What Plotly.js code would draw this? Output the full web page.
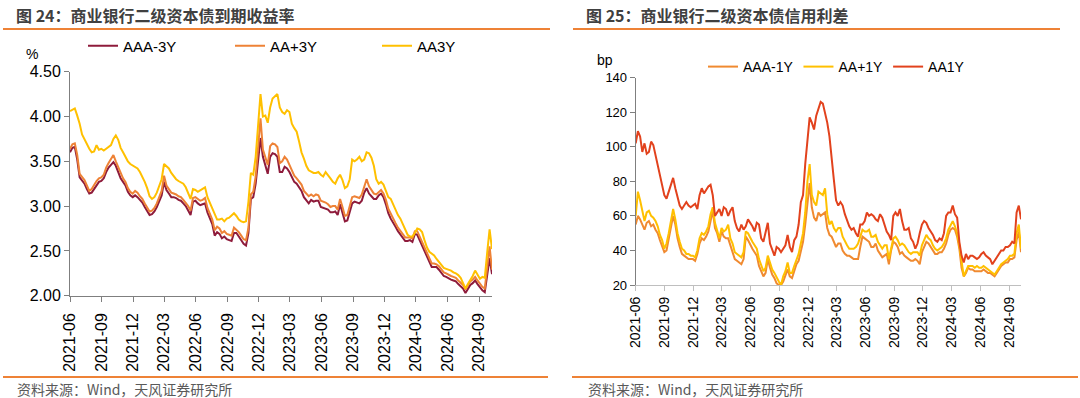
<!DOCTYPE html>
<html>
<head>
<meta charset="utf-8">
<script src="https://cdn.plot.ly/plotly-3.0.1.min.js"></script>
<style>html,body{margin:0;padding:0;background:#fff;}#chart{width:1080px;height:398px;}</style>
</head>
<body>
<div id="chart"></div>
<script>
// ---- data (weekly samples, first date 2021-06-01) ----
const startDate = '2021-06-01';
const stepDays = 7;

const tickDates = ['2021-06-01','2021-09-01','2021-12-01','2022-03-01','2022-06-01','2022-09-01','2022-12-01',
  '2023-03-01','2023-06-01','2023-09-01','2023-12-01','2024-03-01','2024-06-01','2024-09-01'];
const tickLabels = ['2021-06','2021-09','2021-12','2022-03','2022-06','2022-09','2022-12',
  '2023-03','2023-06','2023-09','2023-12','2024-03','2024-06','2024-09'];

// 图24 到期收益率 (%)
const AAA_3Y = [3.60,3.65,3.66,3.52,3.32,3.28,3.25,3.19,3.14,3.15,
3.19,3.23,3.27,3.28,3.31,3.38,3.43,3.46,3.49,3.45,
3.38,3.31,3.27,3.23,3.16,3.12,3.10,3.12,3.10,3.07,
3.04,2.99,2.94,2.90,2.91,2.94,2.99,3.05,3.12,3.27,
3.18,3.14,3.10,3.10,3.09,3.07,3.06,3.03,3.00,2.95,
2.90,3.05,3.06,3.03,3.01,3.02,3.03,2.93,2.86,2.80,
2.67,2.71,2.69,2.64,2.66,2.63,2.62,2.61,2.70,2.70,
2.66,2.62,2.58,2.56,2.70,3.08,3.10,3.25,3.50,3.76,
3.55,3.44,3.36,3.55,3.59,3.58,3.55,3.38,3.38,3.44,
3.42,3.38,3.33,3.27,3.25,3.21,3.17,3.10,3.07,3.03,
3.07,3.05,3.06,3.06,2.99,2.98,2.97,2.96,2.93,2.93,
2.94,2.90,3.02,2.93,2.83,2.84,2.93,3.03,3.05,3.04,
3.03,3.06,3.15,3.20,3.14,3.11,3.08,3.08,3.12,3.14,
3.10,3.02,2.92,2.86,2.82,2.77,2.72,2.68,2.64,2.61,
2.61,2.62,2.60,2.69,2.68,2.62,2.57,2.51,2.45,2.39,
2.32,2.32,2.32,2.29,2.25,2.22,2.21,2.19,2.18,2.17,
2.16,2.13,2.11,2.08,2.03,2.08,2.12,2.14,2.17,2.13,
2.09,2.06,2.04,2.25,2.42,2.24];

const AAplus_3Y = [3.64,3.69,3.70,3.57,3.36,3.32,3.29,3.23,3.17,3.19,
3.24,3.28,3.31,3.32,3.35,3.43,3.48,3.52,3.57,3.50,
3.43,3.36,3.31,3.27,3.20,3.16,3.14,3.17,3.15,3.11,
3.08,3.03,2.98,2.94,2.95,2.98,3.03,3.09,3.17,3.34,
3.23,3.19,3.15,3.14,3.13,3.11,3.10,3.07,3.04,3.00,
2.95,3.09,3.10,3.08,3.06,3.07,3.09,2.98,2.91,2.85,
2.73,2.77,2.75,2.70,2.72,2.69,2.68,2.67,2.76,2.74,
2.71,2.67,2.63,2.62,2.76,3.13,3.16,3.33,3.70,3.98,
3.63,3.54,3.46,3.67,3.70,3.69,3.66,3.48,3.50,3.55,
3.52,3.46,3.40,3.34,3.31,3.28,3.24,3.17,3.14,3.11,
3.13,3.11,3.13,3.12,3.06,3.05,3.04,3.02,2.99,3.00,
3.00,2.96,3.08,2.99,2.89,2.90,2.99,3.10,3.11,3.10,
3.09,3.13,3.23,3.30,3.22,3.18,3.14,3.13,3.16,3.18,
3.14,3.07,2.97,2.91,2.86,2.81,2.76,2.72,2.68,2.65,
2.65,2.65,2.64,2.72,2.72,2.66,2.61,2.55,2.49,2.43,
2.36,2.36,2.35,2.33,2.29,2.26,2.25,2.23,2.22,2.21,
2.20,2.17,2.15,2.12,2.07,2.12,2.16,2.18,2.21,2.17,
2.13,2.10,2.08,2.32,2.55,2.29];

const AA_3Y = [4.06,4.08,4.09,4.01,3.92,3.80,3.74,3.70,3.64,3.60,
3.61,3.68,3.63,3.64,3.62,3.64,3.66,3.68,3.75,3.79,
3.74,3.65,3.60,3.54,3.50,3.47,3.45,3.44,3.42,3.38,
3.33,3.27,3.20,3.11,3.08,3.10,3.15,3.22,3.30,3.47,
3.44,3.42,3.37,3.33,3.30,3.28,3.26,3.25,3.21,3.15,
3.08,3.19,3.18,3.16,3.18,3.20,3.21,3.10,3.04,2.98,
2.91,2.85,2.85,2.86,2.83,2.86,2.87,2.89,2.92,2.89,
2.85,2.83,2.82,2.83,3.05,3.37,3.35,3.55,3.95,4.25,
4.00,4.01,3.93,4.10,4.20,4.22,4.25,4.10,4.05,4.03,
4.07,4.05,3.92,3.87,3.83,3.72,3.60,3.53,3.45,3.40,
3.38,3.37,3.37,3.38,3.35,3.33,3.38,3.35,3.31,3.27,
3.25,3.31,3.35,3.29,3.20,3.22,3.30,3.52,3.50,3.52,
3.55,3.50,3.52,3.60,3.59,3.54,3.45,3.30,3.25,3.27,
3.24,3.17,3.10,3.08,3.02,2.95,2.90,2.86,2.80,2.72,
2.68,2.66,2.66,2.70,2.75,2.74,2.71,2.62,2.54,2.49,
2.47,2.45,2.41,2.38,2.34,2.31,2.30,2.29,2.28,2.26,
2.25,2.23,2.20,2.14,2.08,2.13,2.17,2.22,2.28,2.24,
2.19,2.21,2.20,2.48,2.74,2.52];

// 图25 信用利差 (bp)
const AAA_1Y = [55,60,58,55,52,56,57,54,55,52,
50,46,43,39,40,46,53,60,55,47,
42,38,37,36,35,35,35,34,38,44,
47,46,48,51,58,63,53,50,45,51,
48,47,47,43,40,35,34,33,32,35,
48,46,43,41,39,37,31,28,25,27,
35,30,26,24,21,20,20,22,25,29,
25,24,28,32,34,40,45,55,68,79,
65,59,57,62,60,61,62,53,49,48,
45,42,44,44,40,38,37,37,36,35,
35,35,42,48,47,46,45,42,42,44,
40,38,36,37,38,32,40,45,44,42,
38,39,37,36,35,34,34,35,34,32,
39,42,45,44,42,40,38,38,39,39,
41,44,49,52,53,52,48,41,30,25,
27,30,29,29,28,28,28,28,29,28,
27,27,26,25,27,29,31,32,33,33,
35,35,36,46,51,39];

const AAplus_1Y = [60,74,69,62,57,62,63,60,59,57,
54,49,46,41,44,50,57,64,58,50,
45,41,40,38,38,37,37,36,40,47,
50,49,51,54,61,65,56,52,47,53,
51,52,55,47,44,39,38,37,36,39,
51,50,47,45,43,41,35,32,28,30,
37,33,29,27,24,22,20,25,28,33,
27,27,31,35,38,44,50,62,80,90,
72,68,66,74,73,72,76,61,55,57,
53,51,53,53,48,45,43,41,41,41,
42,44,48,52,51,51,52,48,48,49,
45,43,41,43,43,35,42,47,48,46,
43,44,43,41,39,38,39,39,39,37,
43,46,49,47,46,43,41,40,41,42,
44,47,52,55,57,54,50,43,34,25,
28,31,31,31,30,31,30,30,31,30,
29,28,27,26,28,30,32,33,34,35,
37,37,38,50,55,41];

const AA_1Y = [102,109,106,97,102,96,97,103,101,95,
89,83,77,72,70,74,78,82,76,70,
66,64,66,68,66,65,66,67,64,72,
76,73,75,77,78,72,60,62,64,60,
65,64,60,63,65,57,53,51,55,52,
54,58,56,54,51,56,55,47,45,50,
56,44,40,37,42,41,39,41,43,49,
42,39,46,48,55,68,72,90,103,117,
114,110,118,122,126,125,120,114,106,95,
81,69,66,68,66,61,57,54,52,53,
50,48,55,55,57,62,60,61,60,58,
57,61,59,55,51,49,46,60,62,60,
64,57,52,52,53,47,45,41,44,50,
55,57,56,53,51,49,46,45,47,46,
50,60,62,62,66,61,59,45,37,33,
38,35,37,37,36,35,36,38,39,37,
36,35,32,34,36,38,40,40,42,42,
43,45,44,62,66,58];

// sampling dates (weekly grid)
const dates = [];
{
  const t0 = Date.UTC(2021, 5, 1);
  for (let i = 0; i < AAA_3Y.length; i++) {
    dates.push(new Date(t0 + i * stepDays * 86400000).toISOString().slice(0, 10));
  }
}

const W = 1080, H = 398;
const px = v => v / W;
const py = v => 1 - v / H;

const numFont = 'Liberation Sans, Arial, sans-serif';
const cjkFont = 'Noto Sans CJK SC, sans-serif';

function line(name, y, color, xa, ya, lg) {
  return {type:'scatter', mode:'lines', name:name, x:dates, y:y, xaxis:xa, yaxis:ya, legend:lg,
    line:{color:color, width:2}, hoverinfo:'skip'};
}

const traces = [
  line('AAA-3Y', AAA_3Y, '#8E1B3B', 'x', 'y', 'legend'),
  line('AA+3Y', AAplus_3Y, '#EE8236', 'x', 'y', 'legend'),
  line('AA3Y', AA_3Y, '#FFC000', 'x', 'y', 'legend'),
  line('AAA-1Y', AAA_1Y, '#F08A30', 'x2', 'y2', 'legend2'),
  line('AA+1Y', AAplus_1Y, '#FFC000', 'x2', 'y2', 'legend2'),
  line('AA1Y', AA_1Y, '#E2421D', 'x2', 'y2', 'legend2')
];

function xAxis(domain, anchor, fsize, lc, standoff) {
  return {domain:domain, anchor:anchor, type:'date', range:[dates[0], dates[dates.length-1]],
    tickmode:'array', tickvals:tickDates, ticktext:tickLabels, tickangle:-90,
    ticks:'outside', ticklen:5, tickcolor:lc, showline:true, linecolor:lc, linewidth:1,
    showgrid:false, zeroline:false, automargin:false, ticklabelstandoff:standoff,
    tickfont:{family:numFont, size:fsize, color:'#000'}};
}
function yAxis(domain, anchor, range, dtick, fmt, fsize) {
  return {domain:domain, anchor:anchor, range:range, dtick:dtick, tick0:range[0], tickformat:fmt,
    ticks:'outside', ticklen:5, tickcolor:'#7f7f7f', showline:true, linecolor:'#7f7f7f', linewidth:1,
    showgrid:false, zeroline:false, automargin:false,
    tickfont:{family:numFont, size:fsize, color:'#000'}};
}

const orange = '#EE8236';
const layout = {
  width:W, height:H, margin:{l:0, r:0, t:0, b:0},
  paper_bgcolor:'#ffffff', plot_bgcolor:'#ffffff', showlegend:true,
  xaxis: xAxis([px(70), px(492)], 'y', 16, '#7f7f7f', 5),
  yaxis: yAxis([py(295.7), py(71.7)], 'x', [2, 4.5], 0.5, '.2f', 16),
  xaxis2: xAxis([px(635.7), px(1021)], 'y2', 14, '#bfbfbf', 0),
  yaxis2: yAxis([py(285), py(77.7)], 'x2', [20, 140], 20, 'd', 13),
  legend: {orientation:'h', x:px(83), y:py(46), xanchor:'left', yanchor:'middle',
    font:{family:numFont, size:15, color:'#000'}, bgcolor:'rgba(0,0,0,0)',
    entrywidth:102, entrywidthmode:'pixels', traceorder:'normal'},
  legend2: {orientation:'h', x:px(703), y:py(67), xanchor:'left', yanchor:'middle',
    font:{family:numFont, size:14, color:'#000'}, bgcolor:'rgba(0,0,0,0)', traceorder:'normal'},
  shapes: [
    {type:'line', xref:'paper', yref:'paper', x0:px(3), x1:px(550), y0:py(29), y1:py(29), line:{color:orange, width:2}},
    {type:'line', xref:'paper', yref:'paper', x0:px(573), x1:px(1060), y0:py(29), y1:py(29), line:{color:orange, width:2}},
    {type:'line', xref:'paper', yref:'paper', x0:px(3), x1:px(548), y0:py(377), y1:py(377), line:{color:orange, width:2}},
    {type:'line', xref:'paper', yref:'paper', x0:px(572), x1:px(1078), y0:py(377), y1:py(377), line:{color:orange, width:2}}
  ],
  annotations: [
    {xref:'paper', yref:'paper', x:px(14), y:py(15), xanchor:'left', yanchor:'middle', showarrow:false,
      text:'<b>图 24：商业银行二级资本债到期收益率</b>', font:{family:cjkFont, size:16, color:'#404040'}},
    {xref:'paper', yref:'paper', x:px(584), y:py(15), xanchor:'left', yanchor:'middle', showarrow:false,
      text:'<b>图 25：商业银行二级资本债信用利差</b>', font:{family:cjkFont, size:16, color:'#404040'}},
    {xref:'paper', yref:'paper', x:px(15), y:py(389), xanchor:'left', yanchor:'middle', showarrow:false,
      text:'资料来源：Wind，天风证券研究所', font:{family:cjkFont, size:14, color:'#595959'}},
    {xref:'paper', yref:'paper', x:px(586), y:py(389), xanchor:'left', yanchor:'middle', showarrow:false,
      text:'资料来源：Wind，天风证券研究所', font:{family:cjkFont, size:14, color:'#595959'}},
    {xref:'paper', yref:'paper', x:px(32), y:py(54), xanchor:'center', yanchor:'middle', showarrow:false,
      text:'%', font:{family:numFont, size:14, color:'#000'}},
    {xref:'paper', yref:'paper', x:px(605), y:py(60), xanchor:'center', yanchor:'middle', showarrow:false,
      text:'bp', font:{family:numFont, size:14, color:'#000'}}
  ]
};

Plotly.newPlot('chart', traces, layout, {staticPlot:true, displayModeBar:false});
</script>
</body>
</html>
